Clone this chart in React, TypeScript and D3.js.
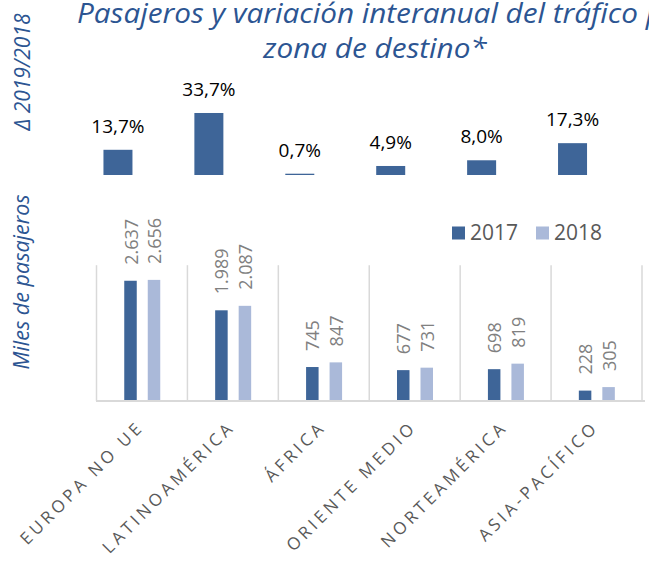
import { useEffect, useRef } from 'react';
import * as d3 from 'd3';

const categories = ['EUROPA NO UE', 'LATINOAMÉRICA', 'ÁFRICA', 'ORIENTE MEDIO', 'NORTEAMÉRICA', 'ASIA-PACÍFICO'];
const variation = [13.7, 33.7, 0.7, 4.9, 8.0, 17.3];
const pax2017 = [2637, 1989, 745, 677, 698, 228];
const pax2018 = [2656, 2087, 847, 731, 819, 305];
const seriesNames = ['2017', '2018'];
const titleLines = ['Pasajeros y variación interanual del tráfico por', 'zona de destino*'];
const topAxisLabel = 'Δ 2019/2018';
const bottomAxisLabel = 'Miles de pasajeros';

const BLUE_TEXT = '#2C5592';
const DARK = '#3E6598';
const LIGHT = '#AAB9D9';
const GRID = '#D9D9D9';
const FONT = '"Open Sans", "DejaVu Sans", sans-serif';

const esLocale = d3.formatLocale({ decimal: ',', thousands: '.', grouping: [3], currency: ['', ' €'] });
const fmtThousands = esLocale.format(',.0f');
const fmtPct = esLocale.format('.1f');

const App = () => {
  const svgRef = useRef<SVGSVGElement>(null);

  useEffect(() => {
    if (!svgRef.current) return;
    const svg = d3.select(svgRef.current);
    svg.selectAll('*').remove();

    svg.append('rect').attr('width', 649).attr('height', 569).attr('fill', '#ffffff');

    // Title (slightly stretched, runs off the right edge like the original)
    svg.append('text')
      .attr('transform', 'translate(77,23) scale(1.08,1)')
      .attr('font-family', FONT).attr('font-style', 'italic').attr('font-size', 27.5)
      .attr('fill', BLUE_TEXT)
      .text(titleLines[0]);
    svg.append('text')
      .attr('transform', 'translate(375,58) scale(1.08,1)')
      .attr('text-anchor', 'middle')
      .attr('font-family', FONT).attr('font-style', 'italic').attr('font-size', 27.5)
      .attr('fill', BLUE_TEXT)
      .text(titleLines[1]);

    // Side labels
    svg.append('text')
      .attr('transform', 'translate(30,72) rotate(-90)')
      .attr('text-anchor', 'middle')
      .attr('font-family', FONT).attr('font-style', 'italic').attr('font-size', 21)
      .attr('fill', BLUE_TEXT)
      .text(topAxisLabel);
    svg.append('text')
      .attr('transform', 'translate(29,282) rotate(-90)')
      .attr('text-anchor', 'middle')
      .attr('font-family', FONT).attr('font-style', 'italic').attr('font-size', 21.5)
      .attr('fill', BLUE_TEXT)
      .text(bottomAxisLabel);

    // Top panel: year-on-year variation
    const xTop = d3.scaleBand().domain(categories).range([72.5, 618]);
    const yTop = d3.scaleLinear().domain([0, 40]).range([175, 175 - 40 * 1.84]);
    const topBarW = 29;

    const top = svg.append('g');
    top.selectAll('rect')
      .data(variation)
      .enter()
      .append('rect')
      .attr('x', (d, i) => xTop(categories[i])! + (xTop.bandwidth() - topBarW) / 2)
      .attr('y', d => yTop(d))
      .attr('width', topBarW)
      .attr('height', d => yTop(0) - yTop(d))
      .attr('fill', DARK);
    top.selectAll('text')
      .data(variation)
      .enter()
      .append('text')
      .attr('x', (d, i) => xTop(categories[i])! + xTop.bandwidth() / 2)
      .attr('y', d => yTop(d) - 17)
      .attr('text-anchor', 'middle')
      .attr('font-family', FONT).attr('font-size', 19)
      .attr('fill', '#000000')
      .text(d => `${fmtPct(d)}%`);

    // Bottom panel: passengers
    const x = d3.scaleBand().domain(categories).range([96.5, 642]);
    const xSub = d3.scalePoint().domain(seriesNames).range([34, 57.5]);
    const y = d3.scaleLinear().domain([0, 3000]).range([401, 401 - 3000 * 0.0456]);
    const barW = 12.5;
    const colors = { '2017': DARK, '2018': LIGHT } as Record<string, string>;

    const bottom = svg.append('g');

    // category separators
    const seps = categories.map(c => x(c)!).concat([x(categories[categories.length - 1])! + x.bandwidth()]);
    bottom.selectAll('line.sep')
      .data(seps)
      .enter()
      .append('line')
      .attr('class', 'sep')
      .attr('x1', d => d).attr('x2', d => d)
      .attr('y1', y(3000) + 1).attr('y2', y(0))
      .attr('stroke', GRID).attr('stroke-width', 1.5);

    const rows = categories.flatMap((c, i) => [
      { cat: c, series: '2017', value: pax2017[i] },
      { cat: c, series: '2018', value: pax2018[i] },
    ]);

    bottom.selectAll('rect.bar')
      .data(rows)
      .enter()
      .append('rect')
      .attr('class', 'bar')
      .attr('x', d => x(d.cat)! + xSub(d.series)! - barW / 2)
      .attr('y', d => y(d.value))
      .attr('width', barW)
      .attr('height', d => y(0) - y(d.value))
      .attr('fill', d => colors[d.series]);

    bottom.selectAll('text.val')
      .data(rows)
      .enter()
      .append('text')
      .attr('class', 'val')
      .attr('transform', d => `translate(${x(d.cat)! + xSub(d.series)! + 7},${y(d.value) - 16}) rotate(-90)`)
      .attr('font-family', FONT).attr('font-size', 18)
      .attr('fill', '#808080')
      .text(d => fmtThousands(d.value));

    // axis line
    bottom.append('line')
      .attr('x1', 96).attr('x2', 645)
      .attr('y1', y(0)).attr('y2', y(0))
      .attr('stroke', GRID).attr('stroke-width', 2);

    // category labels
    bottom.selectAll('text.cat')
      .data(categories)
      .enter()
      .append('text')
      .attr('class', 'cat')
      .attr('transform', d => `translate(${x(d)! + x.bandwidth() / 2 + 3},${428}) rotate(-45)`)
      .attr('text-anchor', 'end')
      .attr('font-family', FONT).attr('font-size', 17)
      .attr('letter-spacing', 3.6)
      .attr('fill', '#595959')
      .text(d => d);

    // legend
    const legend = svg.append('g');
    const legendX = [452, 536];
    seriesNames.forEach((s, i) => {
      legend.append('rect')
        .attr('x', legendX[i]).attr('y', 226.5)
        .attr('width', 13).attr('height', 13)
        .attr('fill', colors[s]);
      legend.append('text')
        .attr('x', legendX[i] + 18).attr('y', 240)
        .attr('font-family', FONT).attr('font-size', 21)
        .attr('fill', '#595959')
        .text(s);
    });
  }, []);

  return (
    <svg
      ref={svgRef}
      width={649}
      height={569}
      style={{ position: 'absolute', left: 0, top: 0, display: 'block' }}
    />
  );
};

export default App;
